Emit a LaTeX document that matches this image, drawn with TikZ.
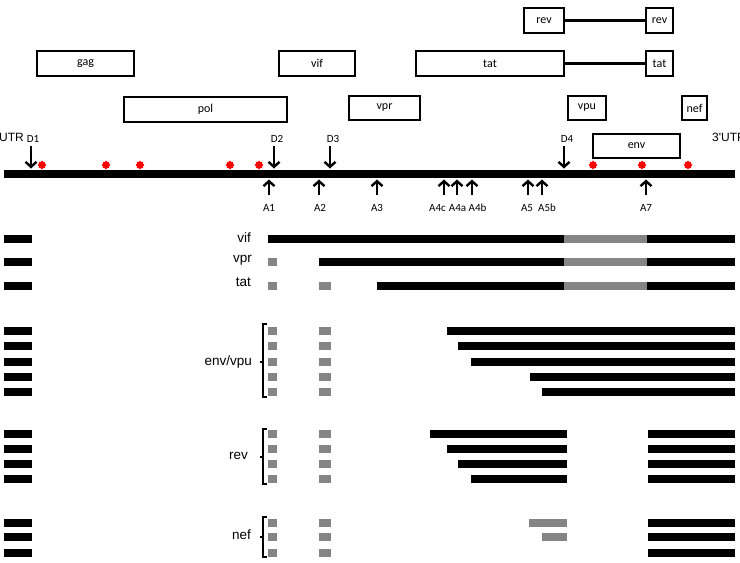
\documentclass[tikz,border=0pt]{standalone}
\usepackage{fontspec}
\setmainfont{Carlito}
\newfontfamily\helv{Liberation Sans}
\usetikzlibrary{arrows.meta,shapes.geometric}
\definecolor{bargray}{HTML}{858585}
\tikzset{
  gbox/.style={draw, line width=1.3pt, minimum height=25pt, inner sep=0pt, font=\fontsize{12}{14}\selectfont},
  link/.style={line width=2.4pt},
  arr/.style={line width=2.4pt, -{Straight Barb[length=5pt,width=11pt]}},
  slab/.style={font=\fontsize{11}{13}\selectfont, inner sep=0pt},
  rlab/.style={font=\helv\fontsize{13.5}{15}\selectfont, inner sep=0pt, anchor=east},
  ulab/.style={font=\helv\fontsize{12}{14}\selectfont, inner sep=0pt},
  site/.style={star, star points=8, star point ratio=1.4, fill=red, draw=none, inner sep=0pt, minimum size=9pt},
  brk/.style={line width=1.5pt},
}
\newcommand{\bk}[3]{\fill[black] (#1,#3-4.3) rectangle (#2,#3+4.3);}
\newcommand{\gr}[3]{\fill[bargray] (#1,#3-4.3) rectangle (#2,#3+4.3);}
\begin{document}
\begin{tikzpicture}[x=1pt,y=-1pt]
\useasboundingbox (0,0) rectangle (740,563);
\clip (0,0) rectangle (740,563);
% gene boxes
\node[gbox, minimum width=97pt] (gag) at (85.5,63.5) {gag};
\node[gbox, minimum width=76pt] (vif) at (317,63.5) {vif};
\node[gbox, minimum width=163pt] (pol) at (205.5,109.5) {pol};
\node[gbox, minimum width=71pt, minimum height=24pt] (vpr) at (384.5,108) {vpr};
\node[gbox, minimum width=38pt, minimum height=24pt] (vpu) at (587,108) {vpu};
\node[gbox, minimum width=25pt, minimum height=24pt] (nef) at (694.5,108) {nef};
\node[gbox, minimum width=40pt] (rev1) at (544,20.5) {rev};
\node[gbox, minimum width=27pt] (rev2) at (659.5,20.5) {rev};
\node[gbox, minimum width=148pt] (tat1) at (490,63.5) {tat};
\node[gbox, minimum width=27pt] (tat2) at (659.5,63.5) {tat};
\node[gbox, minimum width=87pt, minimum height=24pt] (env) at (636.5,146) {env};
\draw[link] (rev1.east) -- (rev2.west);
\draw[link] (tat1.east) -- (tat2.west);
% genome
\node[fill=black, minimum width=731pt, minimum height=8.5pt, inner sep=0pt] (genome) at (369.5,174) {};
\node[ulab, anchor=east] (utr5) at (24,137) {5'UTR};
\node[ulab, anchor=west] (utr3) at (712,137) {3'UTR};
% splice sites
\foreach \n/\x/\lx in {D1/31/33, D2/274/277, D3/330/333, D4/564/567}{
  \node[slab] (\n) at (\lx,139) {\n};
  \coordinate (\n t) at (\x,146);
  \coordinate (\n h) at (\x,168.5);
  \draw[arr] (\n t) -- (\n h);
}
\foreach \n/\x/\lx in {A1/269/269, A2/319/320, A3/377/377, A4c/444/437.5, A4a/457/457.5, A4b/472/477.5, A5/528/527, A5b/542/547, A7/646/646}{
  \node[slab] (\n) at (\lx,208) {\n};
  \coordinate (\n t) at (\x,195);
  \coordinate (\n h) at (\x,179.5);
  \draw[arr] (\n t) -- (\n h);
}
\foreach \x [count=\i] in {42,106,140,230,259,593,642,688}{
  \node[site] (s\i) at (\x,165) {};
}
% transcripts: left exon
\foreach \y in {239,262,286,331,346,362,377,392,434,449,464,479,523,537,553}{
  \bk{4}{32}{\y}
}
% vif, vpr, tat
\node[rlab] (lvif) at (251,238) {vif};
\node[rlab] (lvpr) at (252,260) {vpr};
\node[rlab] (ltat) at (251,282) {tat};
\bk{268}{564}{239}\gr{564}{647}{239}\bk{647}{735}{239}
\gr{268}{277}{262}\bk{319}{564}{262}\gr{564}{647}{262}\bk{647}{735}{262}
\gr{268}{277}{286}\gr{319}{331}{286}\bk{377}{564}{286}\gr{564}{647}{286}\bk{647}{735}{286}
% env/vpu
\foreach \y/\s in {331/447,346/458,362/471,377/530,392/542}{
  \gr{268}{277}{\y}\gr{319}{331}{\y}\bk{\s}{735}{\y}
}
\node[rlab] (lenv) at (252,362) {env/vpu};
\draw[brk] (267,324) -- (263,324) -- (263,397) -- (267,397);
\draw[brk] (263,362) -- (260,362);
% rev
\foreach \y/\s in {434/430,449/447,464/458,479/471}{
  \gr{268}{277}{\y}\gr{319}{331}{\y}\bk{\s}{567}{\y}\bk{648}{735}{\y}
}
\node[rlab] (lrev) at (248,456) {rev};
\draw[brk] (267,429) -- (263,429) -- (263,484) -- (267,484);
\draw[brk] (263,457) -- (260,457);
% nef
\foreach \y in {523,537,553}{
  \gr{268}{277}{\y}\gr{319}{331}{\y}\bk{648}{735}{\y}
}
\gr{529}{567}{523}
\gr{542}{567}{537}
\node[rlab] (lnef) at (251,535) {nef};
\draw[brk] (267,517) -- (263,517) -- (263,557) -- (267,557);
\draw[brk] (263,537) -- (260,537);
\end{tikzpicture}
\end{document}
